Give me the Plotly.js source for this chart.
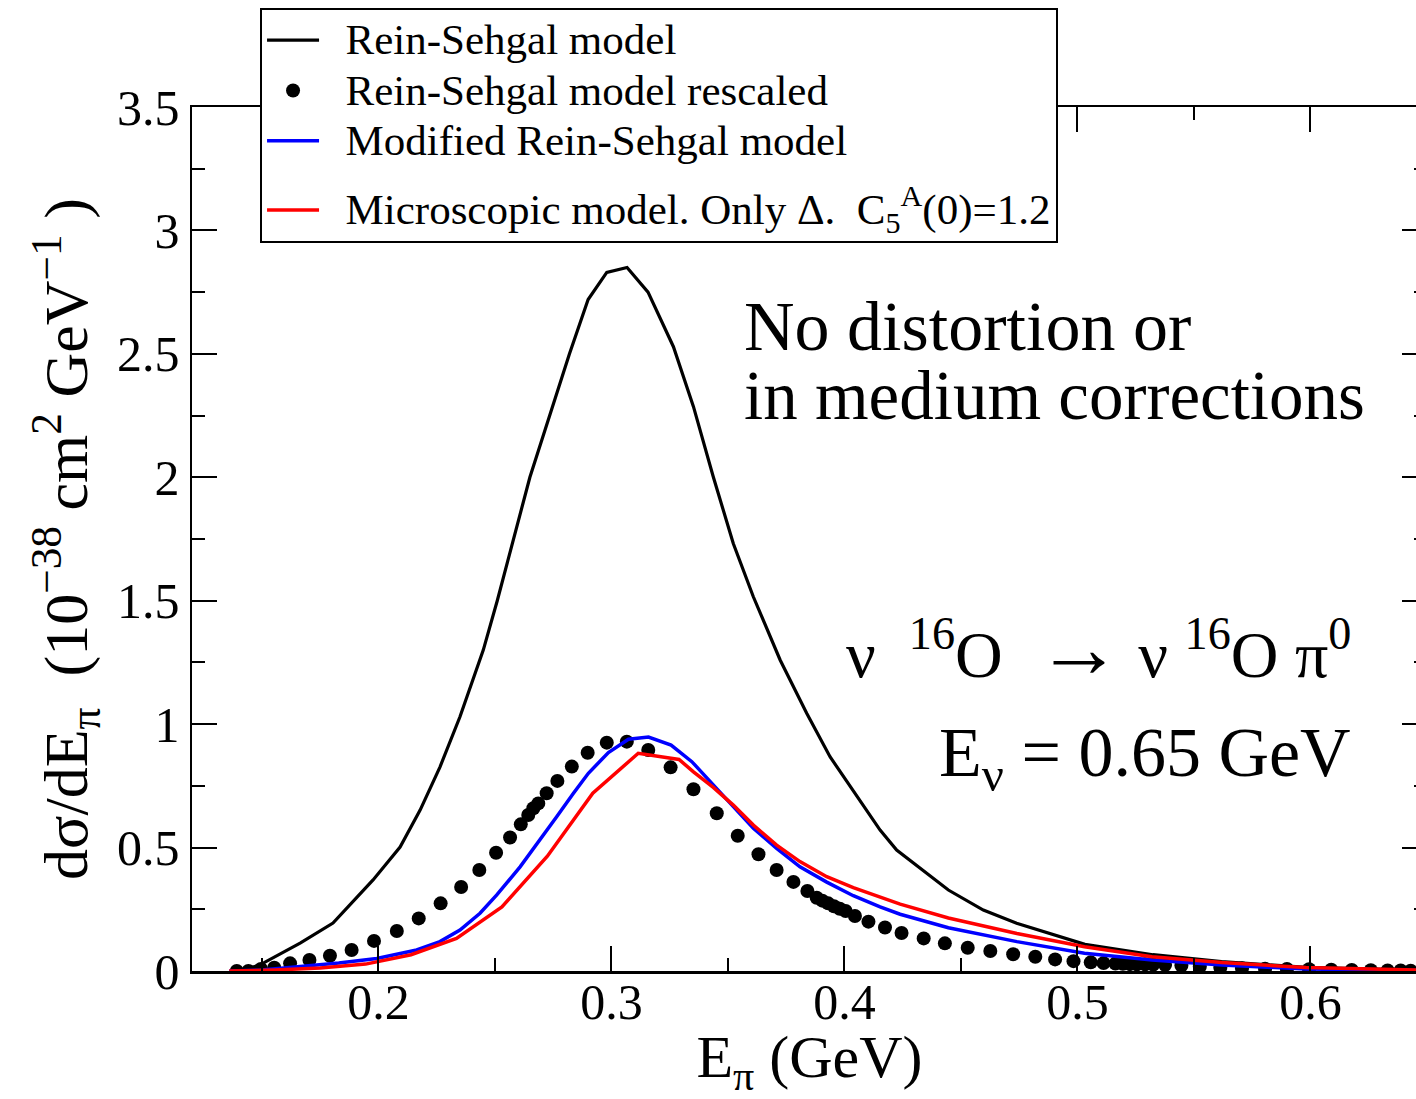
<!DOCTYPE html>
<html>
<head>
<meta charset="utf-8">
<script src="https://cdn.plot.ly/plotly-3.0.1.min.js"></script>
<style>
html, body { margin:0; padding:0; overflow:hidden; background:#fff; }
#chart { width:1430px; height:1099px; }
</style>
</head>
<body>
<div id="chart"></div>
<script>
// Rein-Sehgal model (black line)
const rsX = [0.1399,0.149,0.1664,0.1805,0.1977,0.2093,0.2179,0.2264,0.235,0.245,0.251,0.265,0.282,0.29,0.298,0.3067,0.3157,0.3266,0.3352,0.3437,0.3523,0.3609,0.3724,0.3838,0.3938,0.4153,0.4224,0.4446,0.4596,0.4739,0.5032,0.5324,0.5618,0.5984,0.65];
const rsY = [0,0.024,0.113,0.194,0.369,0.502,0.652,0.826,1.03,1.30,1.5,2.0,2.5,2.72,2.83,2.85,2.75,2.529,2.286,2.002,1.732,1.516,1.26,1.044,0.868,0.571,0.49,0.328,0.247,0.193,0.108,0.066,0.038,0.015,0.003];

// Rein-Sehgal model rescaled (dots)
const rsrX = [0.1392,0.1442,0.1496,0.1553,0.1621,0.1704,0.1792,0.1885,0.1981,0.2079,0.2173,0.2267,0.2355,0.2433,0.2505,0.2565,0.2611,0.2643,0.2665,0.2686,0.2722,0.2768,0.283,0.2898,0.298,0.3066,0.3158,0.3254,0.3352,0.3452,0.3542,0.3631,0.3709,0.3781,0.3841,0.3881,0.3905,0.393,0.3955,0.398,0.4005,0.4045,0.4103,0.4174,0.4245,0.434,0.4431,0.4529,0.4626,0.4724,0.4819,0.4904,0.4983,0.5057,0.5112,0.5163,0.5195,0.5225,0.5255,0.529,0.5325,0.5376,0.5446,0.5525,0.5613,0.5706,0.5805,0.5899,0.5994,0.6089,0.6177,0.6259,0.6331,0.6387,0.643];
const rsrY = [0,0,0.008,0.013,0.031,0.045,0.062,0.085,0.122,0.162,0.213,0.274,0.34,0.409,0.479,0.541,0.594,0.632,0.659,0.679,0.72,0.77,0.828,0.884,0.925,0.929,0.895,0.825,0.736,0.639,0.548,0.473,0.409,0.361,0.324,0.297,0.285,0.274,0.262,0.252,0.243,0.223,0.2,0.176,0.154,0.132,0.112,0.094,0.081,0.068,0.058,0.047,0.04,0.035,0.032,0.03,0.029,0.028,0.027,0.027,0.026,0.025,0.022,0.018,0.014,0.011,0.009,0.008,0.007,0.005,0.004,0.003,0.002,0.002,0.001];

// Modified Rein-Sehgal model (blue)
const mrsX = [0.136,0.15,0.1664,0.183,0.1993,0.2164,0.2264,0.235,0.2436,0.2508,0.2608,0.2694,0.2765,0.2837,0.2901,0.2987,0.3073,0.3159,0.3256,0.3345,0.3437,0.3523,0.3609,0.3709,0.3809,0.3924,0.4038,0.4153,0.4239,0.4446,0.474,0.503,0.532,0.562,0.598,0.65];
const mrsY = [0,0.004,0.018,0.032,0.051,0.085,0.119,0.166,0.234,0.308,0.422,0.531,0.625,0.72,0.801,0.885,0.939,0.948,0.915,0.848,0.753,0.666,0.578,0.497,0.422,0.36,0.305,0.26,0.23,0.175,0.119,0.072,0.045,0.024,0.008,0.002];

// Microscopic model, only Delta (red)
const micX = [0.136,0.1555,0.175,0.1945,0.214,0.2335,0.253,0.2725,0.292,0.3115,0.329,0.3352,0.3437,0.3523,0.3609,0.3709,0.3809,0.3924,0.4038,0.4153,0.4239,0.4446,0.474,0.503,0.532,0.562,0.598,0.65];
const micY = [0,0.004,0.012,0.028,0.066,0.132,0.26,0.465,0.72,0.882,0.857,0.807,0.744,0.672,0.591,0.51,0.443,0.382,0.338,0.298,0.271,0.215,0.152,0.098,0.058,0.034,0.014,0.003];

const seriesNames = [
  "Rein-Sehgal model",
  "Rein-Sehgal model rescaled",
  "Modified Rein-Sehgal model",
  "Microscopic model. Only Δ.&nbsp; C<sub>5</sub><sup>A</sup>(0)=1.2"
];
const legendLabel = s => "<span style='font-size:43px'>&nbsp;&nbsp;" + s + "</span>";

const FONT = "Liberation Serif, Times New Roman, serif";

const traces = [
  {x: rsX, y: rsY, mode: "lines", name: legendLabel(seriesNames[0]), legendgroup: "a", line: {color: "#000", width: 3.2}},
  {x: rsrX, y: rsrY, mode: "markers", name: legendLabel(seriesNames[1]), legendgroup: "a", marker: {color: "#000", size: 14}},
  {x: mrsX, y: mrsY, mode: "lines", name: legendLabel(seriesNames[2]), legendgroup: "a", line: {color: "#0000ff", width: 3.5}},
  {x: micX, y: micY, mode: "lines", name: legendLabel(seriesNames[3]), legendgroup: "b", line: {color: "#ff0000", width: 3.5}}
];

const axisCommon = {
  showgrid: false, zeroline: false, showline: true, linecolor: "#000", linewidth: 2.5,
  mirror: "ticks", ticks: "inside", ticklen: 25, tickwidth: 2, tickcolor: "#000",
  tickfont: {family: FONT, size: 50, color: "#000"}
};

const layout = {
  width: 1430, height: 1099,
  margin: {l: 192, r: 3, t: 107, b: 128},
  paper_bgcolor: "#fff", plot_bgcolor: "#fff",
  font: {family: FONT, color: "#000"},
  showlegend: true,
  legend: {
    x: 0.0551, y: 1.1146, xanchor: "left", yanchor: "top",
    bgcolor: "#fff", bordercolor: "#000", borderwidth: 2,
    font: {family: FONT, size: 36.4, color: "#000"},
    itemwidth: 52, tracegroupgap: 19, traceorder: "grouped"
  },
  xaxis: Object.assign({}, axisCommon, {
    range: [0.12, 0.65], dtick: 0.1, tick0: 0, tickformat: ".1f",
    minor: {dtick: 0.05, ticklen: 13, tickwidth: 2, tickcolor: "#000", ticks: "inside"},
    ticklabelstandoff: -15,
    title: {text: "E<sub>π</sub> (GeV)", font: {family: FONT, size: 60, color: "#000"}, standoff: 19}
  }),
  yaxis: Object.assign({}, axisCommon, {
    range: [0, 3.5], dtick: 0.5, tick0: 0,
    minor: {dtick: 0.25, ticklen: 13, tickwidth: 2, tickcolor: "#000", ticks: "inside"},
    ticklabelstandoff: 0,
    title: {text: "dσ/dE<sub>π</sub>&nbsp;&nbsp;(10<sup>−38</sup>&nbsp;cm<sup>2</sup>&nbsp;GeV<sup>−1</sup>&nbsp;)", font: {family: FONT, size: 62, color: "#000"}, standoff: 10}
  }),
  annotations: [
    {xref: "paper", yref: "paper", x: 0.4454, y: 0.7465, xanchor: "left", yanchor: "middle", showarrow: false,
     text: "No distortion or", font: {family: FONT, size: 70, color: "#000"}},
    {xref: "paper", yref: "paper", x: 0.4454, y: 0.6655, xanchor: "left", yanchor: "middle", showarrow: false,
     text: "in medium corrections", font: {family: FONT, size: 69, color: "#000"}},
    {xref: "paper", yref: "paper", x: 0.94, y: 0.374, xanchor: "right", yanchor: "middle", showarrow: false,
     text: "ν&nbsp; <sup>16</sup>O&nbsp; <span style='font-size:86px'>→</span> ν <sup>16</sup>O π<sup>0</sup>", font: {family: FONT, size: 66, color: "#000"}},
    {xref: "paper", yref: "paper", x: 0.94, y: 0.2466, xanchor: "right", yanchor: "middle", showarrow: false,
     text: "E<sub>ν</sub> = 0.65 GeV", font: {family: FONT, size: 70, color: "#000"}}
  ]
};

Plotly.newPlot("chart", traces, layout, {displayModeBar: false, staticPlot: true});
</script>
</body>
</html>
